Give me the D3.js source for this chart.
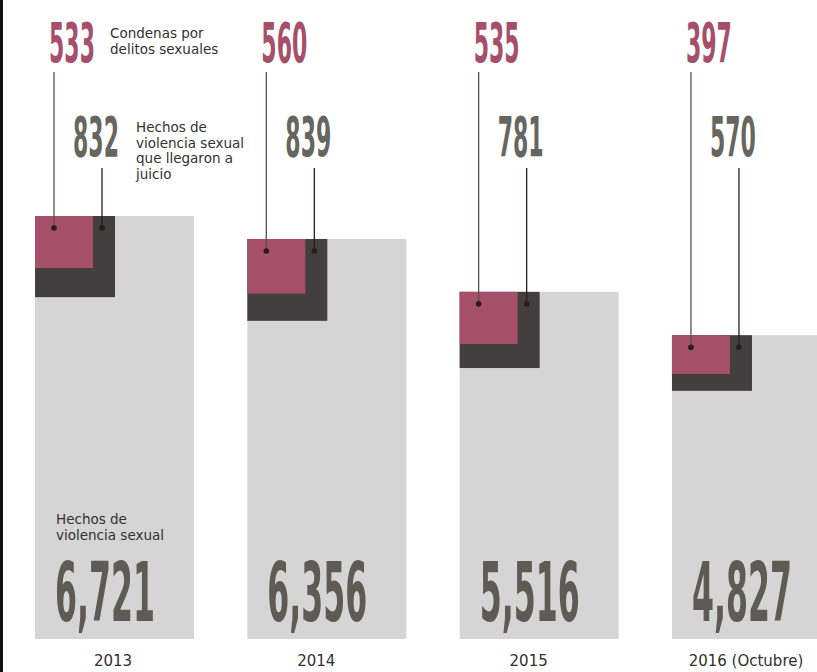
<!DOCTYPE html>
<html>
<head>
<meta charset="utf-8">
<script src="https://cdn.jsdelivr.net/npm/d3@7"></script>
<style>
  body { margin: 0; background: #fff; }
  svg { display: block; }
  .lbl { font-family: "DejaVu Sans", sans-serif; font-size: 13.5px; fill: #333031; }
  .num { font-family: "Liberation Sans Narrow", "DejaVu Sans Condensed", sans-serif; font-weight: bold; }
</style>
</head>
<body>
<div id="chart"></div>
<script>
// Data
var years = ["2013", "2014", "2015", "2016 (Octubre)"];
var hechos = [6721, 6356, 5516, 4827];          // Hechos de violencia sexual
var juicios = [832, 839, 781, 570];             // llegaron a juicio
var condenas = [533, 560, 535, 397];            // Condenas por delitos sexuales
var hechosLabels = ["6,721", "6,356", "5,516", "4,827"];

// Dimensions
var width = 817;
var height = 672;
var baseY = 639;

// Colors
var cLight = "#d5d5d5";
var cDark = "#433e40";
var cPink = "#a64f6a";
var cNumGray = "#66665f";
var cBigNum = "#5e5b55";
var cLine = "#2a1c1c";

var svg = d3.select("#chart").append("svg")
  .attr("width", width)
  .attr("height", height);

// left edge strip
svg.append("rect").attr("x", 0).attr("y", 0).attr("width", 3).attr("height", height).attr("fill", "#111");

var x = d3.scaleBand().domain(years).range([35, 831]).paddingInner(0.251).paddingOuter(0);
var y = d3.scaleLinear().domain([0, 6721]).range([baseY, 216]);
var h = d3.scaleLinear().domain([0, 820]).range([0, 80]);   // heights of the inner rects
var innerW = { dark: 80, pink: 58 };

var data = years.map(function(yr, i) {
  return { year: yr, hechos: hechos[i], juicio: juicios[i], condena: condenas[i], label: hechosLabels[i] };
});

var g = svg.selectAll("g.year").data(data).enter().append("g").attr("class", "year");

// big gray bar
g.append("rect")
  .attr("x", function(d) { return x(d.year); })
  .attr("y", function(d) { return y(d.hechos); })
  .attr("width", x.bandwidth())
  .attr("height", function(d) { return baseY - y(d.hechos); })
  .attr("fill", cLight);

// dark rect (juicio)
g.append("rect")
  .attr("x", function(d) { return x(d.year); })
  .attr("y", function(d) { return y(d.hechos); })
  .attr("width", innerW.dark)
  .attr("height", function(d) { return h(d.juicio); })
  .attr("fill", cDark);

// pink rect (condenas)
g.append("rect")
  .attr("x", function(d) { return x(d.year); })
  .attr("y", function(d) { return y(d.hechos); })
  .attr("width", innerW.pink)
  .attr("height", function(d) { return h(d.condena); })
  .attr("fill", cPink);

// leader lines + dots
var pinkOff = 19, darkOff = 67, dotDy = 12;
g.append("line")
  .attr("x1", function(d) { return x(d.year) + pinkOff; })
  .attr("x2", function(d) { return x(d.year) + pinkOff; })
  .attr("y1", 72)
  .attr("y2", function(d) { return y(d.hechos) + dotDy; })
  .attr("stroke", "#5a4f50").attr("stroke-width", 1.3);
g.append("line")
  .attr("x1", function(d) { return x(d.year) + darkOff; })
  .attr("x2", function(d) { return x(d.year) + darkOff; })
  .attr("y1", 168)
  .attr("y2", function(d) { return y(d.hechos) + dotDy; })
  .attr("stroke", cLine).attr("stroke-width", 1.3);
g.append("circle")
  .attr("cx", function(d) { return x(d.year) + pinkOff; })
  .attr("cy", function(d) { return y(d.hechos) + dotDy; })
  .attr("r", 2.8).attr("fill", cLine);
g.append("circle")
  .attr("cx", function(d) { return x(d.year) + darkOff; })
  .attr("cy", function(d) { return y(d.hechos) + dotDy; })
  .attr("r", 2.8).attr("fill", cLine);

// condensed numbers: squeeze horizontally to the target width
function squeezed(sel, fx, fy, size, targetW, color, txt) {
  sel.append("text").attr("class", "num")
    .attr("font-size", size)
    .attr("fill", color)
    .text(txt)
    .each(function(d) {
      var w = this.getComputedTextLength();
      var sx = targetW / w;
      d3.select(this).attr("transform", "translate(" + fx(d) + "," + fy + ") scale(" + sx + ",1)");
    });
}
squeezed(g, function(d) { return x(d.year) + pinkOff - 5; }, 62, 56, 46, cPink, function(d) { return d.condena; });
squeezed(g, function(d) { return x(d.year) + darkOff - 29; }, 156, 56, 46, cNumGray, function(d) { return d.juicio; });
squeezed(g, function(d) { return x(d.year) + 20; }, 621, 82, 100, cBigNum, function(d) { return d.label; });

// year labels
g.append("text").attr("class", "lbl")
  .attr("x", function(d, i) { return x(d.year) + (i === 0 ? 78 : i === 3 ? 74 : 69); })
  .attr("y", 666)
  .attr("text-anchor", "middle")
  .style("font-size", "15px")
  .text(function(d) { return d.year; });

// annotations
function multiline(xx, yy, lines, lh) {
  var t = svg.append("text").attr("class", "lbl").attr("x", xx).attr("y", yy);
  lines.forEach(function(l, i) {
    t.append("tspan").attr("x", xx).attr("dy", i === 0 ? 0 : lh).text(l);
  });
}
multiline(110, 38, ["Condenas por", "delitos sexuales"], 15.5);
multiline(136, 132, ["Hechos de", "violencia sexual", "que llegaron a", "juicio"], 15.5);
multiline(56, 524, ["Hechos de", "violencia sexual"], 16);
</script>
</body>
</html>
